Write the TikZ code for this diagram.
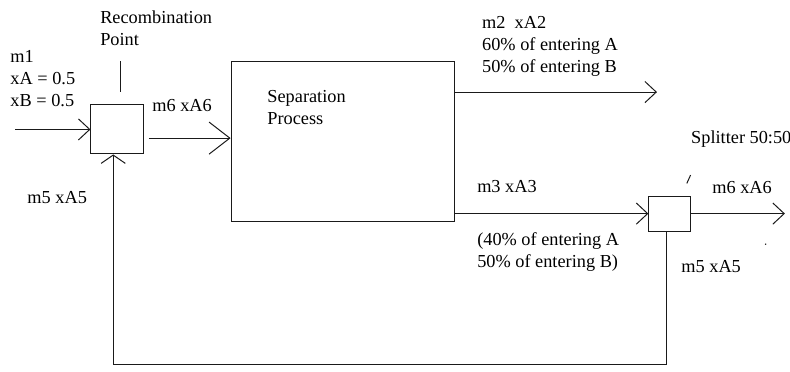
\documentclass[tikz,border=0pt]{standalone}
\usepackage{fontspec}
\setmainfont{Liberation Serif}
\usetikzlibrary{arrows.meta}
\definecolor{flowline}{HTML}{1A1A1A}
\definecolor{flowtext}{HTML}{000000}
\tikzset{
  unit box/.style={
    rectangle, draw=flowline, fill=white,
    line width=0.75pt, inner sep=0pt
  },
  flow line/.style={
    draw=flowline, line width=0.75pt
  },
  flow arrow/.style={
    flow line,
    -{Straight Barb[length=3mm,width=5.6mm]}
  },
  flow label/.style={
    text=flowtext, font=\fontsize{13.8}{16.6}\selectfont,
    anchor=base west, align=left, inner sep=0pt
  }
}

\begin{document}
\begin{tikzpicture}
  \useasboundingbox (0,0) rectangle (20.935,-9.8315);

  \node[unit box,minimum width=1.38cm,minimum height=1.30cm] (recomb) at (3.10,-3.43) {};
  \node[unit box,minimum width=5.91cm,minimum height=4.24cm] (sep) at (9.08,-3.76) {};
  \node[unit box,minimum width=1.09cm,minimum height=0.93cm] (split) at (17.74,-5.66) {};

  \coordinate (feed) at (0.40,0 |- recomb.west);
  \coordinate (prodend) at (17.41,-2.44);
  \coordinate (outend) at (20.80,0 |- split.east);
  \coordinate (loopbase) at (0,-9.67);
  \coordinate (recombtick) at (3.18,-1.62);
  \coordinate (splittick) at (18.20,-4.86);

  % Streams between the units.
  \draw[flow arrow] (feed) -- (recomb.west);
  \draw[flow arrow,-{Straight Barb[length=5.5mm,width=8.5mm]}]
    ([xshift=4pt,yshift=0.1cm]recomb.east |- sep.west) -- ([yshift=0.1cm]sep.west);
  \draw[flow arrow] (sep.east |- prodend) -- (prodend);
  \draw[flow arrow] (sep.east |- split.west) -- (split.west);
  \draw[flow arrow] (split.east) -- (outend);

  % Recycle back to the recombination point.
  \draw[flow arrow,-{Straight Barb[length=2.2mm,width=6.4mm]}]
    ([xshift=-0.07cm]split.south) -- ([xshift=-0.07cm]split.south |- loopbase)
    -| ([xshift=-0.1cm]recomb.south);

  % Pointer ticks.
  \draw[flow line] (recombtick) -- (recombtick |- 0,-2.44);
  \draw[flow line] (splittick) -- ++(0.10,0.22);
  \fill[flowline] (20.29,-6.47) circle (0.6pt);

  % Multi-line labels sit on the baseline of their last line.
  \node[flow label] (recomblabel) at (2.65,-1.21) {Recombination\\Point};
  \node[flow label] (feedlabel) at (0.27,-2.81) {m1\\xA = 0.5\\xB = 0.5};
  \node[flow label] (sixin) at (4.03,-2.96) {m6 xA6};
  \node[flow label] (fiveleft) at (0.72,-5.38) {m5 xA5};
  \node[flow label] (seplabel) at (7.08,-3.31) {Separation\\Process};
  \node[flow label] (twolabel) at (12.77,-1.93) {m2~ xA2\\60\% of entering A\\50\% of entering B};
  \node[flow label] (threelabel) at (12.64,-5.11) {m3 xA3};
  \node[flow label] (threenote) at (12.64,-7.08) {(40\% of entering A\\50\% of entering B)};
  \node[flow label] (splitlabel) at (18.31,-3.79) {Splitter 50:50};
  \node[flow label] (sixout) at (18.87,-5.14) {m6 xA6};
  \node[flow label] (fiveright) at (18.05,-7.23) {m5 xA5};
\end{tikzpicture}
\end{document}
